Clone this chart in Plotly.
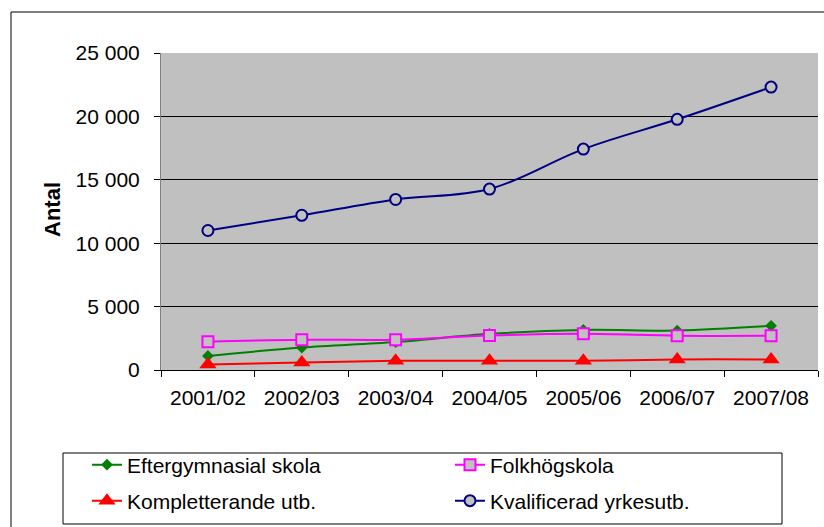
import plotly.graph_objects as go

years = ["2001/02", "2002/03", "2003/04", "2004/05", "2005/06", "2006/07", "2007/08"]
eftergymnasial = [1110, 1770, 2200, 2850, 3160, 3110, 3480]
folkhogskola = [2230, 2390, 2390, 2720, 2850, 2700, 2700]
kompletterande = [440, 600, 720, 720, 720, 830, 830]
kvalificerad = [11000, 12200, 13450, 14270, 17420, 19770, 22310]
y_ticks = [0, 5000, 10000, 15000, 20000, 25000]

W, H = 824, 527
L, R, T, B = 161, 6, 53, 157
PW, PH = W - L - R, H - T - B


def px_x(p):
    return (p - L) / PW


def px_y(p):
    return (H - B - p) / PH


FONT = "Liberation Sans, Arial, sans-serif"

fig = go.Figure()
fig.add_trace(go.Scatter(
    x=years, y=eftergymnasial, name="Eftergymnasial skola", mode="lines+markers",
    line=dict(color="#008000", width=2, shape="spline"),
    marker=dict(symbol="diamond", size=9, color="#008000", line=dict(width=0)),
    legend="legend"))
fig.add_trace(go.Scatter(
    x=years, y=folkhogskola, name="Folkhögskola", mode="lines+markers",
    line=dict(color="#FF00FF", width=2, shape="spline"),
    marker=dict(symbol="square", size=11, color="#C0C0C0", line=dict(color="#FF00FF", width=2)),
    legend="legend"))
fig.add_trace(go.Scatter(
    x=years, y=kompletterande, name="Kompletterande utb.", mode="lines+markers",
    line=dict(color="#FF0000", width=2, shape="spline"),
    marker=dict(symbol="triangle-up", size=15, color="#FF0000", line=dict(width=0)),
    legend="legend2"))
fig.add_trace(go.Scatter(
    x=years, y=kvalificerad, name="Kvalificerad yrkesutb.", mode="lines+markers",
    line=dict(color="#000080", width=2, shape="spline"),
    marker=dict(symbol="circle", size=11, color="#C0C0C0", line=dict(color="#000080", width=2)),
    legend="legend2"))

legend_common = dict(
    orientation="h", xanchor="left", yanchor="middle",
    font=dict(family=FONT, size=21, color="black"),
    bgcolor="rgba(0,0,0,0)", borderwidth=0, entrywidth=318, entrywidthmode="pixels",
)

outer_path = "M {x0},{y0} L {x0},{y1} L {x2},{y1}".format(
    x0=px_x(11), y0=px_y(560), y1=px_y(12), x2=px_x(860))

fig.update_layout(
    width=W, height=H,
    margin=dict(l=L, r=R, t=T, b=B, pad=0),
    paper_bgcolor="white",
    plot_bgcolor="#C0C0C0",
    separators=", ",
    font=dict(family=FONT, size=21, color="black"),
    legend=dict(x=px_x(87), y=px_y(465), **legend_common),
    legend2=dict(x=px_x(87), y=px_y(501), **legend_common),
    xaxis=dict(
        type="category", tickson="boundaries", ticks="outside", ticklen=6,
        tickcolor="black", showline=True, linecolor="black", linewidth=1,
        showgrid=False, tickfont=dict(family=FONT, size=21, color="black"),
        ticklabelstandoff=9, range=[-0.5, 6.5],
    ),
    yaxis=dict(
        range=[0, 25000], tickvals=y_ticks, tickformat=",d", ticks="outside",
        ticklen=6, tickcolor="black", showline=True, linecolor="#808080", linewidth=1,
        showgrid=True, gridcolor="black", gridwidth=1, zeroline=False,
        tickfont=dict(family=FONT, size=21, color="black"), ticklabelstandoff=10,
    ),
    shapes=[
        dict(type="path", xref="paper", yref="paper", path=outer_path,
             line=dict(color="black", width=1), layer="below"),
        dict(type="rect", xref="paper", yref="paper",
             x0=px_x(63), x1=px_x(782), y0=px_y(524), y1=px_y(453),
             line=dict(color="black", width=1), fillcolor="rgba(0,0,0,0)", layer="below"),
    ],
    annotations=[
        dict(text="<b>Antal</b>", xref="paper", yref="paper", x=px_x(52), y=px_y(210),
             textangle=-90, showarrow=False, xanchor="center", yanchor="middle",
             font=dict(family=FONT, size=22, color="black")),
    ],
)

fig.write_html(
    "out.html",
    config={"displayModeBar": False},
    post_script="document.body.style.margin='0px';document.body.style.overflow='hidden';",
)
